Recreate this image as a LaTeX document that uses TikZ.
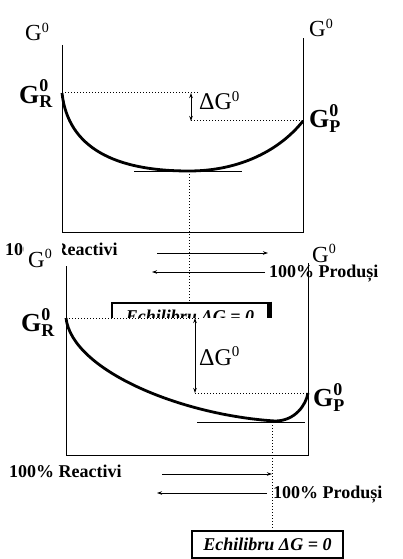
\documentclass[tikz,border=0pt]{standalone}
\usepackage{fontspec}
\setmainfont{Liberation Serif}
\usetikzlibrary{arrows.meta}
\newcommand{\Gzero}{G\raisebox{8.5pt}{\fontsize{14}{14}\selectfont 0}}
\newcommand{\Gstate}[1]{\textbf{G}\rlap{\raisebox{11pt}{\fontsize{18}{18}\selectfont\bfseries 0}}\raisebox{-5pt}{\fontsize{18}{18}\selectfont\bfseries #1}}
\begin{document}
\begin{tikzpicture}[x=1pt, y=-1pt, inner sep=0pt,
   axis/.style={line width=1pt},
   curve/.style={line width=2.8pt},
   level/.style={line width=1pt, dotted},
   tang/.style={line width=1pt},
   dir/.style={line width=1pt, -{Stealth[length=5pt,width=3.5pt]}},
   gap/.style={line width=1pt, {Stealth[length=5pt,width=3.5pt]}-{Stealth[length=5pt,width=3.5pt]}},
   gl/.style={anchor=base west, font=\fontsize{23}{23}\selectfont},
   gs/.style={anchor=base west, font=\fontsize{26}{26}\selectfont},
   dl/.style={anchor=base west, font=\fontsize{24}{24}\selectfont},
   pct/.style={anchor=base west, font=\fontsize{18}{18}\selectfont\bfseries},
   eq/.style={draw, line width=2.6pt, fill=white, minimum height=27pt, font=\fontsize{18}{18}\selectfont\bfseries\itshape}]
   \useasboundingbox (0,0) rectangle (403,559);
   \node[gl] (tGl) at (25,41) {\Gzero};
   \node[gl] (tGr) at (309,37) {\Gzero};
   \node[gs] (tGR) at (19,103) {\Gstate{R}};
   \node[gs] (tGP) at (309,128) {\Gstate{P}};
   \node[dl] (tdG) at (199,110) {ΔG\raisebox{8.5pt}{\fontsize{15}{15}\selectfont 0}};
   \coordinate (tA) at (62,45);
   \coordinate (tB) at (62,232);
   \coordinate (tC) at (303,232);
   \coordinate (tD) at (303,38);
   \coordinate (tR) at (62,93);
   \coordinate (tRe) at (198,93);
   \coordinate (tP) at (303,121);
   \coordinate (tM) at (189,171);
   \coordinate (tq1) at (191,93);
   \coordinate (tq2) at (191,121);
   \coordinate (tT1) at (134,171);
   \coordinate (tT2) at (242,171);
   \draw[axis] (tA) -- (tB) -- (tC) -- (tD);
   \draw[level] (tR) -- (tRe);
   \draw[level] (tq2) -- (tP);
   \draw[gap] (tq1) -- (tq2);
   \draw[curve] (tR) .. controls (68,148) and (115,171) .. (tM) .. controls (240,171) and (280,150) .. (tP);
   \draw[tang] (tT1) -- (tT2);
   \node[pct] (tRea) at (5,255) {100\% Reactivi};
   \node[pct] (tPro) at (269,277) {100\% Produși};
   \coordinate (tr1) at (157,253);
   \coordinate (tr2) at (268,253);
   \coordinate (tl1) at (265,272);
   \coordinate (tl2) at (152,272);
   \draw[dir] (tr1) -- (tr2);
   \draw[dir] (tl1) -- (tl2);
   \node[eq, minimum width=156pt] (tBox) at (190,316.5) {Echilibru ΔG = 0};
   \draw[line width=4.5pt] (tBox.north east) -- (tBox.south east);
   \draw[level] (tM) -- (tM |- tBox.north);
   \fill[white] (66,318) rectangle (308,456);
   \fill[white] (24,243) rectangle (62,270);
   \node[gl] (bGl) at (28,267) {\Gzero};
   \node[gl] (bGr) at (312,262) {\Gzero};
   \node[gs] (bGR) at (21,331) {\Gstate{R}};
   \node[gs] (bGP) at (313,406) {\Gstate{P}};
   \node[dl] (bdG) at (199,365) {ΔG\raisebox{8.5pt}{\fontsize{15}{15}\selectfont 0}};
   \coordinate (bA) at (66,266);
   \coordinate (bB) at (66,455);
   \coordinate (bC) at (308,455);
   \coordinate (bD) at (308,263);
   \coordinate (bR) at (66,318);
   \coordinate (bRe) at (200,318);
   \coordinate (bP) at (308,393);
   \coordinate (bM) at (275,421);
   \coordinate (bq1) at (195,318);
   \coordinate (bq2) at (195,393);
   \coordinate (bT1) at (197,422);
   \coordinate (bT2) at (305,422);
   \coordinate (bV) at (272,422);
   \draw[axis] (bA) -- (bB) -- (bC) -- (bD);
   \draw[level] (bR) -- (bRe);
   \draw[level] (bq2) -- (bP);
   \draw[gap] (bq1) -- (bq2);
   \draw[curve] (bR) .. controls (72,370) and (180,415) .. (bM) .. controls (295,421) and (306,405) .. (bP);
   \draw[tang] (bT1) -- (bT2);
   \node[pct] (bRea) at (9,477) {100\% Reactivi};
   \node[pct] (bPro) at (273,498) {100\% Produși};
   \coordinate (br1) at (162,474);
   \coordinate (br2) at (272,474);
   \coordinate (bl1) at (267,493);
   \coordinate (bl2) at (157,493);
   \draw[dir] (br1) -- (br2);
   \draw[dir] (bl1) -- (bl2);
   \node[eq, minimum width=151pt] (bBox) at (267.5,544.5) {Echilibru ΔG = 0};
   \draw[level] (bV) -- (bV |- bBox.north);
\end{tikzpicture}
\end{document}
